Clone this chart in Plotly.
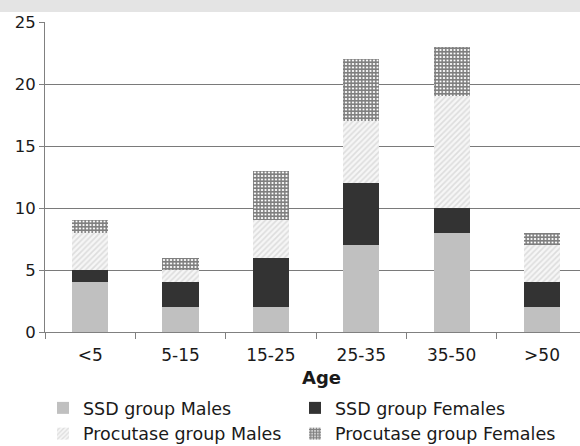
import plotly.graph_objects as go

categories = ["<5", "5-15", "15-25", "25-35", "35-50", ">50"]
ssd_males = [4, 2, 2, 7, 8, 2]
ssd_females = [1, 2, 4, 5, 2, 2]
proc_males = [3, 1, 3, 5, 9, 3]
proc_females = [1, 1, 4, 5, 4, 1]
y_ticks = [0, 5, 10, 15, 20, 25]

FONT = "DejaVu Sans"
W, H = 580, 446
L, R, T, B = 45, 0, 22, 114
plot_w = W - L - R
plot_h = H - T - B

fig = go.Figure()
fig.add_trace(go.Bar(
    x=categories, y=ssd_males, name="SSD group Males", legend="legend",
    legendgroup="a",
    marker=dict(color="#c0c0c0", line=dict(width=0)), width=0.4))
fig.add_trace(go.Bar(
    x=categories, y=ssd_females, name="SSD group Females", legend="legend2",
    legendgroup="b",
    marker=dict(color="#333333", line=dict(width=0)), width=0.4))
fig.add_trace(go.Bar(
    x=categories, y=proc_males, name="Procutase group Males", legend="legend",
    legendgroup="c",
    marker=dict(color="#ffffff", line=dict(width=0),
                pattern=dict(shape="/", fgcolor="#c4c4c4", bgcolor="#f6f6f6",
                             size=4, solidity=0.4)), width=0.4))
fig.add_trace(go.Bar(
    x=categories, y=proc_females, name="Procutase group Females", legend="legend2",
    legendgroup="d",
    marker=dict(color="#ffffff", line=dict(width=0),
                pattern=dict(shape="+", fgcolor="#000000", bgcolor="#ffffff",
                             size=3.5, solidity=0.7)), width=0.4))

leg_common = dict(orientation="v", xanchor="left", yanchor="top",
                  traceorder="normal", tracegroupgap=3,
                  font=dict(family=FONT, size=17.5, color="#1a1a1a"),
                  bgcolor="rgba(0,0,0,0)", itemclick=False)
leg_y = -(390 - (T + plot_h)) / plot_h

fig.update_layout(
    barmode="stack",
    width=W, height=H,
    margin=dict(l=L, r=R, t=T, b=B, pad=0, autoexpand=False),
    paper_bgcolor="white", plot_bgcolor="white",
    font=dict(family=FONT, size=17, color="#1a1a1a"),
    showlegend=True,
    legend=dict(x=(43 - L) / plot_w, y=leg_y, **leg_common),
    legend2=dict(x=(295 - L) / plot_w, y=leg_y, **leg_common),
    xaxis=dict(type="category", range=[-0.5, 5.42], tickson="boundaries",
               ticks="outside", ticklen=6, tickcolor="#808080",
               showline=True, linecolor="#808080", linewidth=1,
               ticklabelstandoff=8,
               showgrid=False, tickfont=dict(size=17, family=FONT)),
    yaxis=dict(range=[0, 25], tickvals=y_ticks, ticks="outside", ticklen=5,
               tickcolor="#808080", showline=True, linecolor="#808080",
               gridcolor="#7a7a7a", gridwidth=1, zeroline=False,
               tickfont=dict(size=16.5, family=FONT)),
    shapes=[dict(type="rect", xref="paper", yref="paper",
                 x0=-L / plot_w, x1=1.0, y0=1 + 10 / plot_h, y1=1 + T / plot_h,
                 fillcolor="#e4e4e4", line=dict(width=0), layer="below")],
    annotations=[dict(text="<b>Age</b>", xref="paper", yref="paper",
                      x=(321 - L) / plot_w, y=-(377 - (T + plot_h)) / plot_h,
                      xanchor="center", yanchor="middle", showarrow=False,
                      font=dict(family=FONT, size=18, color="#1a1a1a"))],
)

fig.write_html("out.html", config={"displayModeBar": False},
               post_script="document.body.style.margin='0';document.body.style.overflow='hidden';")
